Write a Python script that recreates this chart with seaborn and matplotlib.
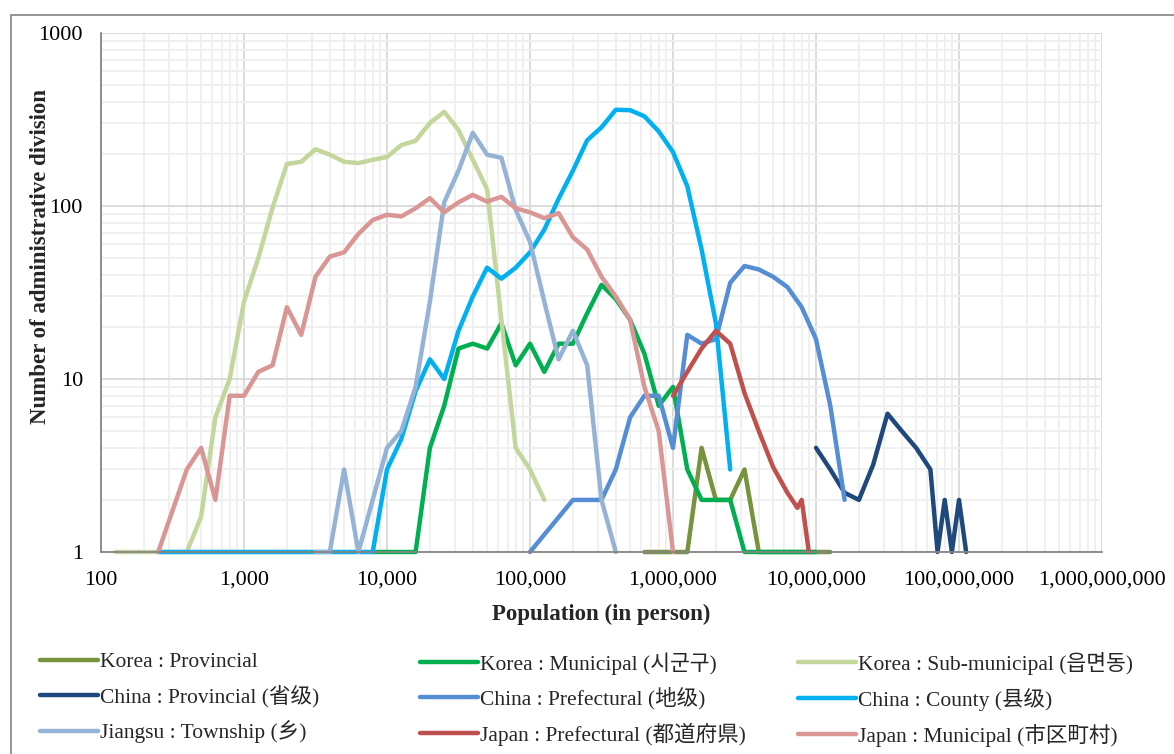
import numpy as np
import pandas as pd
import matplotlib
matplotlib.use("Agg")
import matplotlib.pyplot as plt
import matplotlib.ticker as mticker
from matplotlib.patches import Rectangle
import seaborn as sns

# log10(population) bin centres and counts
kr_prov_logx = [5.8, 5.9, 6.0, 6.1, 6.2, 6.3, 6.4, 6.5, 6.6, 6.7, 6.8, 6.9, 7.0, 7.1]
kr_prov_n = [1, 1, 1, 1, 4, 2, 2, 3, 1, 1, 1, 1, 1, 1]

kr_muni_logx = [3.9, 4.0, 4.1, 4.2, 4.3, 4.4, 4.5, 4.6, 4.7, 4.8, 4.9, 5.0, 5.1, 5.2, 5.3, 5.4,
                5.5, 5.6, 5.7, 5.8, 5.9, 6.0, 6.1, 6.2, 6.3, 6.4, 6.5, 6.6, 6.7, 6.8, 6.9, 7.0]
kr_muni_n = [1, 1, 1, 1, 4, 7, 15, 16, 15, 21, 12, 16, 11, 16, 16, 24,
             35, 29, 22, 14, 7, 9, 3, 2, 2, 2, 1, 1, 1, 1, 1, 1]

kr_sub_logx = [2.1, 2.2, 2.3, 2.4, 2.5, 2.6, 2.7, 2.8, 2.9, 3.0, 3.1, 3.2, 3.3, 3.4, 3.5, 3.6,
               3.7, 3.8, 3.9, 4.0, 4.1, 4.2, 4.3, 4.4, 4.5, 4.6, 4.7, 4.8, 4.9, 5.0, 5.1]
kr_sub_n = [1, 1, 1, 1, 1, 1, 1.6, 6, 10, 28, 50, 98, 175, 180, 213, 198,
            180, 177, 185, 192, 225, 238, 302, 350, 275, 185, 125, 22, 4, 3, 2]

cn_prov_logx = [7.0, 7.1, 7.2, 7.3, 7.4, 7.5, 7.6, 7.7, 7.8, 7.85, 7.9, 7.95, 8.0, 8.05]
cn_prov_n = [4, 3, 2.2, 2, 3.2, 6.3, 5, 4, 3, 1, 2, 1, 2, 1]

cn_pref_logx = [5.0, 5.3, 5.4, 5.5, 5.6, 5.7, 5.8, 5.9, 6.0, 6.1, 6.2, 6.3, 6.4, 6.5, 6.6,
                6.7, 6.8, 6.9, 7.0, 7.1, 7.2]
cn_pref_n = [1, 2, 2, 2, 3, 6, 8, 8, 4, 18, 16, 17, 36, 45, 43, 39, 34, 26, 17, 7, 2]

cn_county_logx = [2.4, 2.5, 2.6, 2.7, 2.8, 2.9, 3.0, 3.1, 3.2, 3.3, 3.4, 3.5, 3.6, 3.7, 3.8, 3.9,
                  4.0, 4.1, 4.2, 4.3, 4.4, 4.5, 4.6, 4.7, 4.8, 4.9, 5.0, 5.1, 5.2, 5.3, 5.4,
                  5.5, 5.6, 5.7, 5.8, 5.9, 6.0, 6.1, 6.2, 6.3, 6.4]
cn_county_n = [1, 1, 1, 1, 1, 1, 1, 1, 1, 1, 1, 1, 1, 1, 1, 1,
               3, 4.5, 8.5, 13, 10, 19, 30, 44, 38, 44, 54, 73, 110, 160, 240,
               285, 360, 358, 330, 270, 205, 130, 56, 21, 3]

js_town_logx = [3.5, 3.6, 3.7, 3.8, 3.9, 4.0, 4.1, 4.2, 4.3, 4.4, 4.5, 4.6, 4.7, 4.8, 4.9,
                5.0, 5.1, 5.2, 5.3, 5.4, 5.5, 5.6]
js_town_n = [1, 1, 3, 1, 2, 4, 5, 9, 28, 105, 160, 265, 198, 190, 95,
             62, 28, 13, 19, 12, 2, 1]

jp_pref_logx = [6.0, 6.1, 6.2, 6.3, 6.4, 6.5, 6.6, 6.7, 6.8, 6.87, 6.9, 6.95]
jp_pref_n = [8, 11, 15, 19, 16, 8.3, 5, 3.1, 2.2, 1.8, 2, 1]

jp_muni_logx = [2.4, 2.6, 2.7, 2.8, 2.9, 3.0, 3.1, 3.2, 3.3, 3.4, 3.5, 3.6, 3.7, 3.8, 3.9,
                4.0, 4.1, 4.2, 4.3, 4.4, 4.5, 4.6, 4.7, 4.8, 4.9, 5.0, 5.1, 5.2, 5.3, 5.4,
                5.5, 5.6, 5.7, 5.8, 5.9, 6.0]
jp_muni_n = [1, 3, 4, 2, 8, 8, 11, 12, 26, 18, 39, 51, 54, 69, 83,
             89, 87, 97, 111, 92, 105, 116, 106, 113, 97, 92, 85, 91, 66, 56,
             39, 30, 22, 9, 5, 1]

series_names = [
    "Korea : Provincial", "Korea : Municipal (시군구)", "Korea : Sub-municipal (읍면동)",
    "China : Provincial (省级)", "China : Prefectural (地级)", "China : County (县级)",
    "Jiangsu : Township (乡)", "Japan : Prefectural (都道府県)", "Japan : Municipal (市区町村)",
]
series_colors = ["#77933C", "#00B050", "#C3D69B", "#1F497D", "#558ED5", "#00B0F0",
                 "#95B3D7", "#C0504D", "#D99694"]

x_ticks = [1e2, 1e3, 1e4, 1e5, 1e6, 1e7, 1e8, 1e9]
y_ticks = [1, 10, 100, 1000]

series_data = [
    (kr_prov_logx, kr_prov_n), (kr_muni_logx, kr_muni_n), (kr_sub_logx, kr_sub_n),
    (cn_prov_logx, cn_prov_n), (cn_pref_logx, cn_pref_n), (cn_county_logx, cn_county_n),
    (js_town_logx, js_town_n), (jp_pref_logx, jp_pref_n), (jp_muni_logx, jp_muni_n),
]

frames = []
for name, (lx, n) in zip(series_names, series_data):
    frames.append(pd.DataFrame({"series": name,
                                "population": 10 ** np.array(lx),
                                "count": n}))
df = pd.concat(frames, ignore_index=True)

sns.set_style("white")
serif = ["Liberation Serif", "Noto Sans CJK JP", "DejaVu Sans"]
plt.rcParams["font.family"] = serif

fig = plt.figure(figsize=(11.74, 7.54), dpi=100)
ax = fig.add_axes([101 / 1174, 1 - 552 / 754, 1001 / 1174, 519 / 754])

sns.lineplot(data=df, x="population", y="count", hue="series", hue_order=series_names,
             palette=series_colors, sort=False, estimator=None, linewidth=3.2, ax=ax)

ax.set_xscale("log")
ax.set_yscale("log")
ax.set_xlim(x_ticks[0], x_ticks[-1])
ax.set_ylim(y_ticks[0], y_ticks[-1])

for line in ax.lines:
    line.set_clip_on(False)
    line.set_solid_capstyle("round")
    line.set_solid_joinstyle("round")

ax.set_xticks(x_ticks)
ax.set_yticks(y_ticks)
ax.set_xticklabels([f"{v:,.0f}" for v in x_ticks])
ax.set_yticklabels([f"{v:.0f}" for v in y_ticks])
ax.xaxis.set_minor_locator(mticker.LogLocator(base=10, subs=np.arange(2, 10), numticks=100))
ax.yaxis.set_minor_locator(mticker.LogLocator(base=10, subs=np.arange(2, 10), numticks=100))
ax.xaxis.set_minor_formatter(mticker.NullFormatter())
ax.yaxis.set_minor_formatter(mticker.NullFormatter())

ax.grid(True, which="major", color="#D9D9D9", linewidth=1.3)
ax.grid(True, which="minor", color="#EFEFEF", linewidth=1.3)
ax.set_axisbelow(True)

for side in ["top", "right"]:
    ax.spines[side].set_visible(False)
for side in ["left", "bottom"]:
    ax.spines[side].set_color("#868686")
    ax.spines[side].set_linewidth(1.3)

ax.tick_params(which="major", length=5, width=1.2, color="#868686",
               labelsize=16, labelcolor="black")
ax.tick_params(axis="x", which="major", pad=8.5)
ax.tick_params(axis="y", which="major", pad=8)
ax.tick_params(which="minor", length=0)

ax.set_xlabel("Population (in person)", fontsize=16.5, fontweight="bold", labelpad=10)
ax.set_ylabel("Number of administrative division", fontsize=16.5, fontweight="bold")
ax.yaxis.set_label_coords(-50 / 1001, (552 - 257) / 519)

handles, labels = ax.get_legend_handles_labels()
ax.get_legend().remove()
col_x = [40 / 1174, 420 / 1174, 798 / 1174]
for c in range(3):
    idx = [c, c + 3, c + 6]
    fig.legend([handles[i] for i in idx], [labels[i] for i in idx],
               loc="upper left", bbox_to_anchor=(col_x[c], 1 - 652 / 754),
               frameon=False, fontsize=15.5, handlelength=2.7, handletextpad=0.1,
               labelspacing=0.6, borderpad=0, borderaxespad=0)

fig.add_artist(Rectangle((11 / 1174, -0.2), 1.5, 1.2 - 15 / 754, transform=fig.transFigure,
                         fill=False, edgecolor="#8C8C8C", linewidth=1.3))

fig.savefig("out.png", dpi=100, facecolor="white")
